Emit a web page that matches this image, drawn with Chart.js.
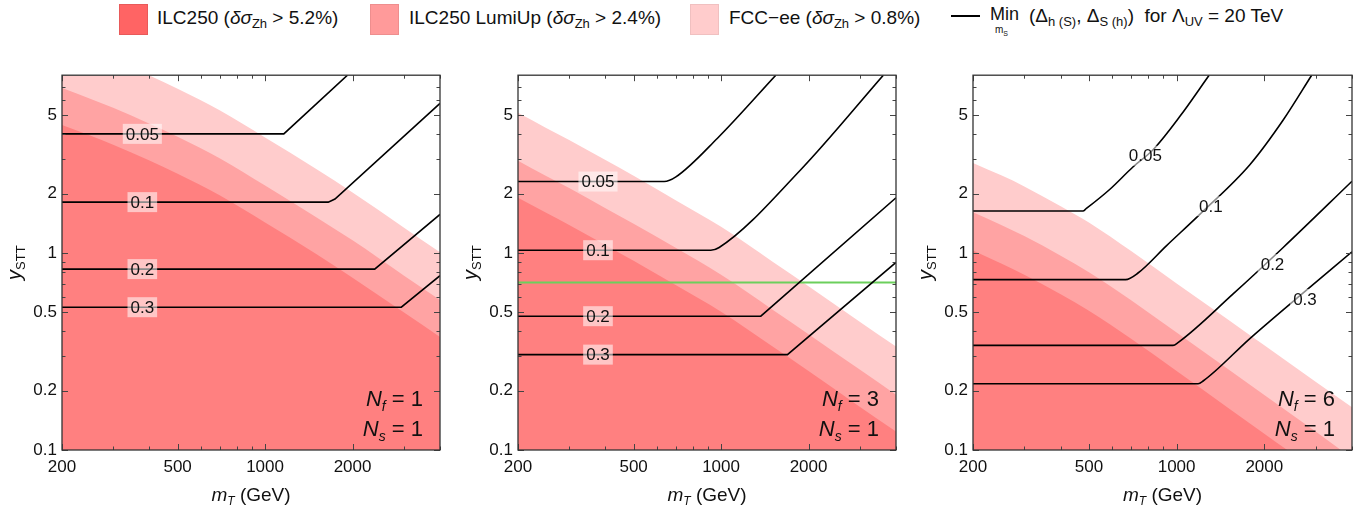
<!DOCTYPE html>
<html>
<head>
<meta charset="utf-8">
<script src="https://cdn.jsdelivr.net/npm/chart.js@4.4.1/dist/chart.umd.min.js"></script>
<style>
  body { margin: 0; background: #fff; }
  #wrap { position: relative; width: 1369px; height: 512px; overflow: hidden;
          font-family: "Liberation Sans", Arial, sans-serif; color: #111; }
  canvas { position: absolute; top: 60px; }
  .sw { position: absolute; top: 4px; width: 29px; height: 31px; box-sizing: border-box; }
  .lt { position: absolute; top: 8px; font-size: 19px; line-height: 1; white-space: nowrap; }
  .lt sub { font-size: 13px; vertical-align: -4px; line-height: 1; }
  .small { position: absolute; font-size: 10px; line-height: 1; white-space: nowrap; }
</style>
</head>
<body>
<div id="wrap">
  <div class="sw" style="left:119px;background:#FF6464;border:1px solid #E85A5A;"></div>
  <div class="lt" style="left:157px;">ILC250 (<i>δσ</i><sub>Zh</sub> &gt; 5.2%)</div>
  <div class="sw" style="left:370px;background:#FF9A9A;border:1px solid #EE8E8E;"></div>
  <div class="lt" style="left:409px;">ILC250 LumiUp (<i>δσ</i><sub>Zh</sub> &gt; 2.4%)</div>
  <div class="sw" style="left:690px;background:#FFCCCC;border:1px solid #F0C0C0;"></div>
  <div class="lt" style="left:729px;">FCC−ee (<i>δσ</i><sub>Zh</sub> &gt; 0.8%)</div>
  <div style="position:absolute;left:951px;top:15px;width:29px;height:2px;background:#000;"></div>
  <div class="lt" style="left:990px;top:5px;font-size:18px;">Min</div>
  <div class="small" style="left:995px;top:25px;">m<sub style="font-size:7px;">S</sub></div>
  <div class="lt" style="left:1029px;top:6px;font-size:19px;">(Δ<sub>h (S)</sub>, Δ<sub>S (h)</sub>)&nbsp; for Λ<sub>UV</sub> = 20 TeV</div>

  <canvas id="p1" width="455" height="452" style="left:0px;"></canvas>
  <canvas id="p2" width="455" height="452" style="left:456px;"></canvas>
  <canvas id="p3" width="456" height="452" style="left:911px;"></canvas>
</div>

<script>
// --- axis ticks ---
const xMajor = [200, 500, 1000, 2000];
const xMinor = [300, 400, 600, 700, 800, 900, 3000, 4000];
const yMajor = [0.1, 0.2, 0.5, 1, 2, 5];
const yMinor = [0.3, 0.4, 0.6, 0.7, 0.8, 0.9, 3, 4, 6, 7];

// --- exclusion band boundaries (y_STT at each m_T) ---
const massGrid = [200, 250, 300, 400, 500, 700, 1000, 1500, 2000, 3000, 4000];

const ilcNf1  = [4.47, 3.95, 3.55, 2.95, 2.53, 1.96, 1.43, 0.99, 0.75, 0.50, 0.375];
const lumiNf1 = [6.88, 6.08, 5.47, 4.54, 3.90, 3.02, 2.20, 1.52, 1.16, 0.77, 0.578];
const fccNf1  = [12.1, 10.7, 9.6, 7.97, 6.83, 5.29, 3.86, 2.67, 2.03, 1.35, 1.01];

const ilcNf3  = [1.91, 1.60, 1.39, 1.10, 0.914, 0.686, 0.503, 0.336, 0.252, 0.166, 0.124];
const lumiNf3 = [2.94, 2.46, 2.14, 1.69, 1.41, 1.06, 0.775, 0.517, 0.387, 0.256, 0.191];
const fccNf3  = [5.16, 4.32, 3.75, 2.97, 2.47, 1.85, 1.36, 0.907, 0.679, 0.448, 0.335];

const ilcNf6  = [1.03, 0.886, 0.777, 0.618, 0.509, 0.366, 0.252, 0.164, 0.121, 0.079, 0.058];
const lumiNf6 = [1.61, 1.39, 1.22, 0.97, 0.80, 0.575, 0.395, 0.258, 0.19, 0.124, 0.091];
const fccNf6  = [2.87, 2.48, 2.18, 1.73, 1.43, 1.02, 0.70, 0.46, 0.34, 0.222, 0.165];

// --- contours [m_T, y_STT] ---
const nf1C005 = [[200, 4.03], [1160, 4.03], [1921, 8.0]];
const nf1C01  = [[200, 1.814], [1650, 1.814], [1740, 1.88], [4000, 5.75]];
const nf1C02  = [[200, 0.829], [2384, 0.829], [4000, 1.572]];
const nf1C03  = [[200, 0.531], [2944, 0.531], [4000, 0.768]];

const nf3C005 = [[200, 2.307], [637, 2.307], [699, 2.435], [972, 3.83], [1543, 8.0]];
const nf3C01  = [[200, 1.034], [922, 1.034], [985, 1.067], [1880, 2.65], [3618, 8.0]];
const nf3C02  = [[200, 0.478], [1370, 0.478], [4000, 1.908]];
const nf3C03  = [[200, 0.305], [1692, 0.305], [4000, 0.896]];
const nf3Green = [[200, 0.708], [4000, 0.708]];

const nf6C005 = [[200, 1.634], [477, 1.634], [489, 1.679], [589, 2.102], [708, 2.735], [830, 3.345], [1025, 4.93], [1293, 8.0]];
const nf6C01  = [[200, 0.733], [668, 0.733], [737, 0.792], [922, 1.088], [1201, 1.572], [1784, 2.811], [2322, 4.74], [2908, 8.0]];
const nf6C02  = [[200, 0.340], [972, 0.340], [1011, 0.351], [1563, 0.620], [2322, 1.067], [4000, 2.315]];
const nf6C03  = [[200, 0.217], [1185, 0.217], [1233, 0.224], [1784, 0.368], [2651, 0.608], [4000, 1.015]];

// --- contour labels [m_T, y_STT, text] ---
const nf1Labels = [[378, 4.03, '0.05'], [378, 1.814, '0.1'], [378, 0.829, '0.2'], [378, 0.531, '0.3']];
const nf3Labels = [[377, 2.307, '0.05'], [377, 1.034, '0.1'], [377, 0.478, '0.2'], [377, 0.305, '0.3']];
const nf6Labels = [[781, 3.12, '0.05'], [1310, 1.73, '0.1'], [2134, 0.879, '0.2'], [2758, 0.585, '0.3']];

const FONT = '"Liberation Sans", Arial, sans-serif';

function drawParts(ctx, parts, x, y, align) {
    let w = 0;
    parts.forEach(p => { ctx.font = p.font; p.w = ctx.measureText(p.t).width; w += p.w; });
    let cx = align === 'right' ? x - w : (align === 'center' ? x - w / 2 : x);
    ctx.textAlign = 'left';
    ctx.textBaseline = 'alphabetic';
    parts.forEach(p => { ctx.font = p.font; ctx.fillText(p.t, cx, y + (p.dy || 0)); cx += p.w; });
}

function toPoints(pairs) {
    return pairs.map(p => ({ x: p[0], y: p[1] }));
}

function bandSet(values, color, order) {
    return {
        data: massGrid.map((m, i) => ({ x: m, y: values[i] })),
        backgroundColor: color,
        borderColor: 'rgba(0,0,0,0)',
        borderWidth: 0,
        pointRadius: 0,
        fill: 'start',
        cubicInterpolationMode: 'monotone',
        order: order
    };
}

function makeDeco(labels, nf) {
    return {
        id: 'deco' + nf,
        afterDatasetsDraw(chart) {
            const { ctx, chartArea: a, scales: { x, y } } = chart;
            ctx.save();

            // frame ticks (inside, all four sides)
            ctx.strokeStyle = '#444';
            ctx.lineWidth = 1;
            ctx.beginPath();
            const xt = (v, len) => {
                const px = Math.round(x.getPixelForValue(v)) + 0.5;
                ctx.moveTo(px, a.bottom); ctx.lineTo(px, a.bottom - len);
                ctx.moveTo(px, a.top); ctx.lineTo(px, a.top + len);
            };
            const yt = (v, len) => {
                const py = Math.round(y.getPixelForValue(v)) + 0.5;
                ctx.moveTo(a.left, py); ctx.lineTo(a.left + len, py);
                ctx.moveTo(a.right, py); ctx.lineTo(a.right - len, py);
            };
            xMajor.forEach(v => xt(v, 6));
            xMinor.forEach(v => xt(v, 3.5));
            yMajor.forEach(v => yt(v, 6));
            yMinor.forEach(v => yt(v, 3.5));
            ctx.stroke();
            ctx.strokeStyle = '#333';
            ctx.lineWidth = 1.3;
            ctx.strokeRect(a.left, a.top, a.right - a.left, a.bottom - a.top);

            // contour labels
            ctx.font = '17px ' + FONT;
            labels.forEach(l => {
                const px = x.getPixelForValue(l[0]);
                const py = y.getPixelForValue(l[1]);
                const w = ctx.measureText(l[2]).width + 6;
                ctx.fillStyle = 'rgba(255,255,255,0.55)';
                ctx.fillRect(px - w / 2, py - 10, w, 20);
                ctx.fillStyle = '#111';
                ctx.textAlign = 'center';
                ctx.textBaseline = 'middle';
                ctx.fillText(l[2], px, py + 1);
            });

            // N_f / N_s annotation
            ctx.fillStyle = '#111';
            drawParts(ctx, [
                { t: 'N', font: 'italic 22px ' + FONT },
                { t: 'f', font: 'italic 14px ' + FONT, dy: 5 },
                { t: ' = ' + nf, font: '22px ' + FONT }
            ], a.right - 17, a.bottom - 44, 'right');
            drawParts(ctx, [
                { t: 'N', font: 'italic 22px ' + FONT },
                { t: 's', font: 'italic 14px ' + FONT, dy: 5 },
                { t: ' = 1', font: '22px ' + FONT }
            ], a.right - 17, a.bottom - 14, 'right');

            // axis titles
            drawParts(ctx, [
                { t: 'm', font: 'italic 19px ' + FONT },
                { t: 'T', font: 'italic 12px ' + FONT, dy: 4 },
                { t: ' (GeV)', font: '19px ' + FONT }
            ], (a.left + a.right) / 2, chart.height - 11, 'center');

            ctx.translate(a.left - 41, (a.top + a.bottom) / 2);
            ctx.rotate(-Math.PI / 2);
            drawParts(ctx, [
                { t: 'y', font: 'italic 20px ' + FONT },
                { t: 'STT', font: '13px ' + FONT, dy: 4 }
            ], 0, 0, 'center');
            ctx.restore();
        }
    };
}

function makePanel(id, fcc, lumi, ilc, lines, labels, nf, green) {
    const datasets = [];
    lines.forEach(l => {
        datasets.push({
            data: toPoints(l),
            borderColor: '#000',
            borderWidth: 1.6,
            pointRadius: 0,
            fill: false,
            cubicInterpolationMode: l.length > 4 ? 'monotone' : 'default',
            tension: 0,
            order: 0
        });
    });
    if (green) {
        datasets.push({
            data: toPoints(green),
            borderColor: '#6ccf5c',
            borderWidth: 2,
            pointRadius: 0,
            fill: false,
            order: 0
        });
    }
    datasets.push(bandSet(ilc, '#FF8080', 1));
    datasets.push(bandSet(lumi, '#FFA3A3', 2));
    datasets.push(bandSet(fcc, '#FFCCCC', 3));

    new Chart(document.getElementById(id), {
        type: 'line',
        data: { datasets: datasets },
        options: {
            responsive: false,
            animation: false,
            devicePixelRatio: 1,
            layout: { padding: { top: 13, right: 15, left: 0, bottom: 0 } },
            plugins: { legend: { display: false }, tooltip: { enabled: false } },
            scales: {
                x: {
                    type: 'logarithmic',
                    min: 200,
                    max: 4000,
                    grid: { display: false, drawTicks: false },
                    border: { display: false },
                    afterBuildTicks: s => { s.ticks = xMajor.map(v => ({ value: v })); },
                    afterFit: s => { s.height = 62; },
                    ticks: {
                        autoSkip: false,
                        maxRotation: 0,
                        padding: 7,
                        color: '#111',
                        font: { size: 17, family: FONT },
                        callback: v => String(v)
                    }
                },
                y: {
                    type: 'logarithmic',
                    min: 0.1,
                    max: 8,
                    grid: { display: false, drawTicks: false },
                    border: { display: false },
                    afterBuildTicks: s => { s.ticks = yMajor.map(v => ({ value: v })); },
                    afterFit: s => { s.width = 62; },
                    ticks: {
                        autoSkip: false,
                        padding: 5,
                        color: '#111',
                        font: { size: 17, family: FONT },
                        callback: v => String(v)
                    }
                }
            }
        },
        plugins: [makeDeco(labels, nf)]
    });
}

makePanel('p1', fccNf1, lumiNf1, ilcNf1, [nf1C005, nf1C01, nf1C02, nf1C03], nf1Labels, 1, null);
makePanel('p2', fccNf3, lumiNf3, ilcNf3, [nf3C005, nf3C01, nf3C02, nf3C03], nf3Labels, 3, nf3Green);
makePanel('p3', fccNf6, lumiNf6, ilcNf6, [nf6C005, nf6C01, nf6C02, nf6C03], nf6Labels, 6, null);
</script>
</body>
</html>
